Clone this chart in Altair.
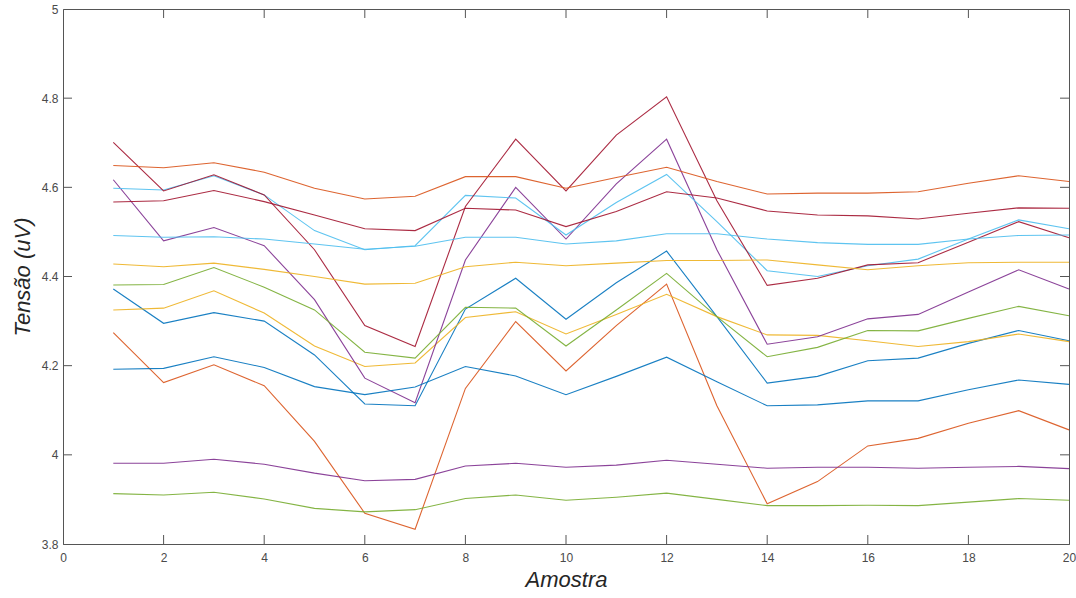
import altair as alt
import pandas as pd

# x samples
amostra = list(range(1, 21))

# series values (MATLAB colour order, two cycles)
s_blue_a = [4.372, 4.295, 4.319, 4.300, 4.224, 4.114, 4.110, 4.327, 4.396, 4.304,
            4.386, 4.457, 4.310, 4.161, 4.176, 4.211, 4.217, 4.250, 4.279, 4.256]
s_orange_a = [4.274, 4.162, 4.202, 4.155, 4.030, 3.869, 3.833, 4.149, 4.299, 4.188,
              4.290, 4.383, 4.110, 3.890, 3.940, 4.020, 4.037, 4.071, 4.099, 4.056]
s_yellow_a = [4.325, 4.329, 4.368, 4.318, 4.244, 4.198, 4.206, 4.308, 4.321, 4.271,
              4.315, 4.360, 4.310, 4.269, 4.268, 4.256, 4.243, 4.254, 4.271, 4.254]
s_purple_a = [4.617, 4.480, 4.510, 4.469, 4.348, 4.172, 4.117, 4.437, 4.600, 4.484,
              4.608, 4.708, 4.460, 4.248, 4.265, 4.305, 4.315, 4.365, 4.415, 4.372]
s_green_a = [4.381, 4.382, 4.420, 4.376, 4.325, 4.230, 4.217, 4.331, 4.329, 4.244,
             4.325, 4.407, 4.310, 4.220, 4.241, 4.279, 4.278, 4.306, 4.333, 4.312]
s_lblue_a = [4.598, 4.594, 4.626, 4.583, 4.503, 4.460, 4.469, 4.582, 4.576, 4.493,
             4.566, 4.629, 4.523, 4.413, 4.400, 4.424, 4.439, 4.484, 4.527, 4.507]
s_dred_a = [4.701, 4.592, 4.628, 4.583, 4.460, 4.290, 4.243, 4.557, 4.708, 4.592,
            4.717, 4.803, 4.570, 4.380, 4.396, 4.426, 4.431, 4.477, 4.523, 4.487]
s_blue_b = [4.192, 4.194, 4.220, 4.196, 4.153, 4.135, 4.152, 4.198, 4.177, 4.135,
            4.176, 4.219, 4.164, 4.110, 4.112, 4.121, 4.121, 4.146, 4.168, 4.158]
s_orange_b = [4.649, 4.644, 4.655, 4.634, 4.598, 4.574, 4.580, 4.624, 4.624, 4.598,
              4.622, 4.645, 4.613, 4.585, 4.587, 4.587, 4.590, 4.609, 4.626, 4.613]
s_yellow_b = [4.428, 4.422, 4.430, 4.416, 4.400, 4.383, 4.385, 4.422, 4.432, 4.424,
              4.430, 4.436, 4.436, 4.437, 4.426, 4.415, 4.424, 4.431, 4.432, 4.432]
s_purple_b = [3.981, 3.981, 3.990, 3.979, 3.959, 3.942, 3.945, 3.975, 3.981, 3.972,
              3.977, 3.988, 3.979, 3.970, 3.972, 3.972, 3.970, 3.972, 3.974, 3.969]
s_green_b = [3.913, 3.910, 3.916, 3.901, 3.880, 3.872, 3.877, 3.902, 3.910, 3.898,
             3.905, 3.914, 3.900, 3.886, 3.886, 3.887, 3.886, 3.894, 3.902, 3.898]
s_lblue_b = [4.492, 4.488, 4.489, 4.484, 4.473, 4.461, 4.468, 4.488, 4.488, 4.473,
             4.480, 4.496, 4.496, 4.484, 4.476, 4.472, 4.472, 4.484, 4.492, 4.493]
s_dred_b = [4.567, 4.570, 4.593, 4.568, 4.538, 4.507, 4.503, 4.553, 4.549, 4.512,
            4.546, 4.590, 4.576, 4.547, 4.538, 4.536, 4.529, 4.542, 4.554, 4.553]

series_names = ["s01", "s02", "s03", "s04", "s05", "s06", "s07",
                "s08", "s09", "s10", "s11", "s12", "s13", "s14"]
series_values = [s_blue_a, s_orange_a, s_yellow_a, s_purple_a, s_green_a, s_lblue_a, s_dred_a,
                 s_blue_b, s_orange_b, s_yellow_b, s_purple_b, s_green_b, s_lblue_b, s_dred_b]
series_colors = ["#0072BD", "#D95319", "#EDB120", "#7E2F8E", "#77AC30", "#4DBEEE", "#A2142F",
                 "#0072BD", "#D95319", "#EDB120", "#7E2F8E", "#77AC30", "#4DBEEE", "#A2142F"]

x_ticks = [0, 2, 4, 6, 8, 10, 12, 14, 16, 18, 20]
y_ticks = [3.8, 4.0, 4.2, 4.4, 4.6, 4.8, 5.0]

rows = []
for name, vals in zip(series_names, series_values):
    for xv, yv in zip(amostra, vals):
        rows.append({"serie": name, "x": xv, "y": yv})
df = pd.DataFrame(rows)

W, H = 1006, 535
TICK = 9
AX = "#555555"

xscale = alt.Scale(domain=[0, 20], nice=False, zero=False)
yscale = alt.Scale(domain=[3.8, 5.0], nice=False, zero=False)

lines = alt.Chart(df).mark_line(strokeWidth=1.1, opacity=0.9).encode(
    x=alt.X("x:Q", scale=xscale,
            axis=alt.Axis(values=x_ticks, title="Amostra", ticks=False, grid=False,
                          labelFontSize=12, labelColor="#4a4a4a", labelPadding=8,
                          labelFont="Liberation Sans",
                          titleFont="Liberation Sans", titleFontSize=22,
                          titleFontStyle="italic", titleFontWeight="normal",
                          titleColor="#262626", titlePadding=6,
                          domainColor=AX, labelFlush=False)),
    y=alt.Y("y:Q", scale=yscale,
            axis=alt.Axis(values=y_ticks, title="Tensão (uV)", ticks=False, grid=False,
                          format="~g",
                          labelFontSize=12, labelColor="#4a4a4a", labelPadding=5,
                          labelFont="Liberation Sans",
                          titleFont="Liberation Sans", titleFontSize=22,
                          titleFontStyle="italic", titleFontWeight="normal",
                          titleColor="#262626", titlePadding=7,
                          domainColor=AX, labelFlush=False)),
    color=alt.Color("serie:N", scale=alt.Scale(domain=series_names, range=series_colors),
                    legend=None),
)

xt_df = pd.DataFrame({"t": x_ticks[1:-1]})
yt_df = pd.DataFrame({"t": y_ticks[1:-1]})

bottom_ticks = alt.Chart(xt_df).mark_rule(color=AX, strokeWidth=1).encode(
    x=alt.X("t:Q", scale=xscale), y=alt.value(H), y2=alt.value(H - TICK))
top_ticks = alt.Chart(xt_df).mark_rule(color=AX, strokeWidth=1).encode(
    x=alt.X("t:Q", scale=xscale), y=alt.value(0), y2=alt.value(TICK))
left_ticks = alt.Chart(yt_df).mark_rule(color=AX, strokeWidth=1).encode(
    y=alt.Y("t:Q", scale=yscale), x=alt.value(0), x2=alt.value(TICK))
right_ticks = alt.Chart(yt_df).mark_rule(color=AX, strokeWidth=1).encode(
    y=alt.Y("t:Q", scale=yscale), x=alt.value(W), x2=alt.value(W - TICK))

chart = alt.layer(lines, bottom_ticks, top_ticks, left_ticks, right_ticks).properties(
    width=W, height=H,
    autosize=alt.AutoSizeParams(type="none"),
    padding={"left": 63, "top": 9, "right": 7, "bottom": 54},
    background="white",
).configure_view(stroke=AX, strokeWidth=1)

chart.save("out.html", embed_options={"renderer": "svg", "actions": False})
